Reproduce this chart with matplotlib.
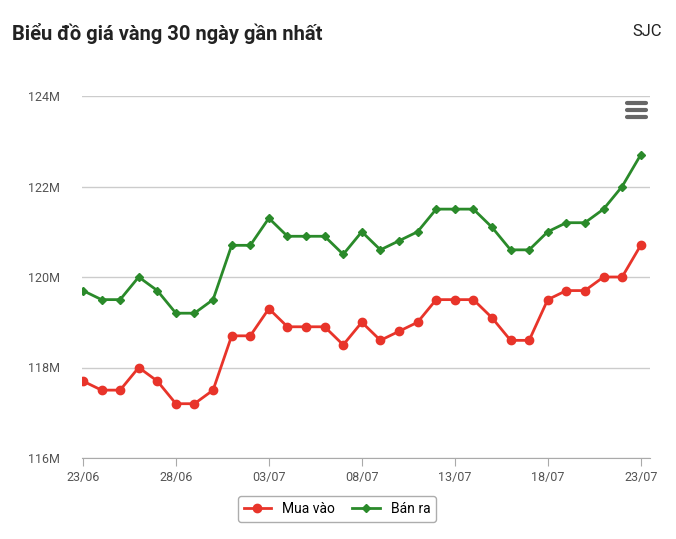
import matplotlib
matplotlib.use("Agg")
import matplotlib.pyplot as plt

plt.rcParams["font.family"] = "Roboto"

dates = ["23/06","24/06","25/06","26/06","27/06","28/06","29/06","30/06","01/07","02/07","03/07",
         "04/07","05/07","06/07","07/07","08/07","09/07","10/07","11/07","12/07","13/07","14/07",
         "15/07","16/07","17/07","18/07","19/07","20/07","21/07","22/07","23/07"]
ban_ra = [119.7,119.5,119.5,120.0,119.7,119.2,119.2,119.5,120.7,120.7,121.3,
          120.9,120.9,120.9,120.5,121.0,120.6,120.8,121.0,121.5,121.5,121.5,
          121.1,120.6,120.6,121.0,121.2,121.2,121.5,122.0,122.7]
mua_vao = [117.7,117.5,117.5,118.0,117.7,117.2,117.2,117.5,118.7,118.7,119.3,
           118.9,118.9,118.9,118.5,119.0,118.6,118.8,119.0,119.5,119.5,119.5,
           119.1,118.6,118.6,119.5,119.7,119.7,120.0,120.0,120.7]
yticks = [116,118,120,122,124]

fig = plt.figure(figsize=(6.76,5.39), dpi=100)
ax = fig.add_axes([82/676, 1-458/539, (650-82)/676, (458-96)/539])
x = list(range(len(dates)))
ax.plot(x, mua_vao, color="#e8342a", marker="o", ms=6, lw=2, label="Mua vào")
ax.plot(x, ban_ra, color="#2a8a2a", marker="D", ms=4.5, lw=2, label="Bán ra")
ax.set_xlim(-0.05, 30.5)
ax.set_ylim(116,124)
ax.set_yticks(yticks)
ax.set_yticklabels([f"{v}M" for v in yticks], color="#555555", fontsize=9)
ax.set_xticks(x[::5])
ax.set_xticklabels(dates[::5], color="#555555", fontsize=9)
ax.grid(axis="y", color="#cccccc", lw=1)
ax.set_axisbelow(True)
for s in ["top","right","left"]:
    ax.spines[s].set_visible(False)
ax.spines["bottom"].set_color("#aaaaaa")
ax.tick_params(axis="y", length=0, pad=16)
ax.tick_params(axis="x", length=6, color="#aaaaaa")
fig.text(12/676, 1-33/539, "Biểu đồ giá vàng 30 ngày gần nhất", fontsize=14.5, fontweight="bold", color="#222222", va="center")
fig.text(662/676, 1-31/539, "SJC", fontsize=12, color="#222222", va="center", ha="right")
for yy in [103,110,117]:
    fig.add_artist(plt.Line2D([627/676,646/676],[1-yy/539,1-yy/539], color="#666666", lw=3, solid_capstyle="round"))
leg = fig.legend(loc="center", bbox_to_anchor=(337/676, 1-509/539), ncol=2, frameon=True,
                 fontsize=10, handlelength=2, columnspacing=1.2, fancybox=True)
leg.get_frame().set_edgecolor("#999999")
fig.savefig("out.png", dpi=100, facecolor="white")
